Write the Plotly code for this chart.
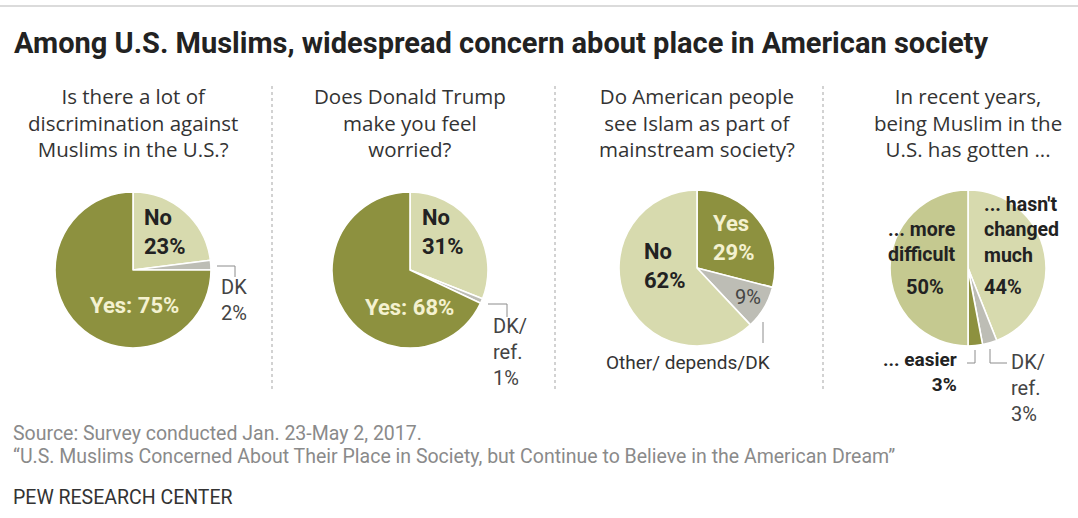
import plotly.graph_objects as go

W, H = 1078, 518

# ---------------- data ----------------
title = "Among U.S. Muslims, widespread concern about place in American society"
questions = [
    ["Is there a lot of", "discrimination against", "Muslims in the U.S.?"],
    ["Does Donald Trump", "make you feel", "worried?"],
    ["Do American people", "see Islam as part of", "mainstream society?"],
    ["In recent years,", "being Muslim in the", "U.S. has gotten ..."],
]
q1_labels = ["No", "DK", "Yes"]
q1_values = [23, 2, 75]
q2_labels = ["No", "DK/ref.", "Yes"]
q2_values = [31, 1, 68]
q3_labels = ["Yes", "Other/ depends/DK", "No"]
q3_values = [29, 9, 62]
q4_labels = ["... hasn't changed much", "DK/ref.", "... easier", "... more difficult"]
q4_values = [44, 3, 3, 50]
source_note = "Source: Survey conducted Jan. 23-May 2, 2017."
report_title = "\u201cU.S. Muslims Concerned About Their Place in Society, but Continue to Believe in the American Dream\u201d"
credit = "PEW RESEARCH CENTER"

# ---------------- style ----------------
DARK = "#8d913f"
LIGHT = "#d7daae"
MID = "#c5c990"
GRAY = "#bdbdb5"
CREAM = "#f4f1d0"
INK = "#222222"
SUB = "#333333"
BOLD_FONT = "Roboto"
REG_FONT = "Open Sans"

pies = [
    (q1_labels, q1_values, [LIGHT, GRAY, DARK], 133, 270),
    (q2_labels, q2_values, [LIGHT, GRAY, DARK], 410, 270),
    (q3_labels, q3_values, [DARK, GRAY, LIGHT], 697, 268),
    (q4_labels, q4_values, [LIGHT, GRAY, DARK, MID], 968, 268),
]
R = 78


def px(x):
    return x / W


def py(y):
    return 1 - y / H


fig = go.Figure()
for labels, values, colors, cx, cy in pies:
    fig.add_trace(go.Pie(
        labels=labels, values=values, sort=False, direction="clockwise",
        rotation=0, textinfo="none", hoverinfo="label+percent",
        marker=dict(colors=colors, line=dict(color="white", width=1.6)),
        domain=dict(x=[px(cx - R), px(cx + R)], y=[py(cy + R), py(cy - R)]),
        showlegend=False,
    ))

annotations = []


def txt(x, y, lines, size=20, color=INK, bold=False, anchor="left", font=None):
    if isinstance(lines, str):
        lines = [lines]
    body = "<br>".join(f"<b>{l}</b>" if bold else l for l in lines)
    annotations.append(dict(
        x=px(x), y=py(y), xref="paper", yref="paper", showarrow=False,
        text=body, xanchor=anchor, yanchor="middle", align=anchor,
        font=dict(family=font or (BOLD_FONT if bold else REG_FONT), size=size, color=color),
    ))


# title
txt(12, 43, title, size=29, color=INK, bold=True)

# questions
for (_, _, _, cx, _), lines in zip(pies, questions):
    txt(cx, 123, lines, size=20.5, color=SUB, anchor="center")

LBL = "#444444"
# pie 1 labels
txt(142, 232, [q1_labels[0], f"{q1_values[0]}%"], size=22, bold=True)
txt(134, 305, f"{q1_labels[2]}: {q1_values[2]}%", size=22, bold=True, color=CREAM, anchor="center")
txt(219, 300, [q1_labels[1], f"{q1_values[1]}%"], size=20, color=LBL, font=BOLD_FONT)

# pie 2 labels
txt(420, 232, [q2_labels[0], f"{q2_values[0]}%"], size=22, bold=True)
txt(409, 307, f"{q2_labels[2]}: {q2_values[2]}%", size=22, bold=True, color=CREAM, anchor="center")
dk2 = q2_labels[1].split("/")
txt(491, 352, [dk2[0] + "/", dk2[1], f"{q2_values[1]}%"], size=20, color=LBL, font=BOLD_FONT)

# pie 3 labels
txt(711, 238, [q3_labels[0], f"{q3_values[0]}%"], size=22, bold=True, color=CREAM)
txt(642, 266, [q3_labels[2], f"{q3_values[2]}%"], size=22, bold=True)
txt(748, 297, f"{q3_values[1]}%", size=20, color=LBL, anchor="center", font=BOLD_FONT)
txt(688, 362, q3_labels[1], size=19, color=SUB, anchor="center", font=BOLD_FONT)

# pie 4 labels
w0 = q4_labels[0].split(" ")
txt(982, 230, [" ".join(w0[:2]), w0[2], w0[3]], size=19.5, bold=True)
txt(982, 287, f"{q4_values[0]}%", size=20, bold=True)
w3 = q4_labels[3].split(" ")
txt(958, 242, [" ".join(w3[:2]), w3[2]], size=19.5, bold=True, anchor="right")
txt(925, 287, f"{q4_values[3]}%", size=20, bold=True, anchor="center")
txt(959, 372, [q4_labels[2], f"{q4_values[2]}%"], size=19, bold=True, anchor="right")
dk4 = q4_labels[1].split("/")
txt(1009, 388, [dk4[0] + "/", dk4[1], f"{q4_values[1]}%"], size=20, color=LBL, font=BOLD_FONT)

# footer
txt(11, 433.5, source_note, size=19.5, color="#8a8a8a", font=BOLD_FONT)
txt(11, 456.5, report_title, size=19.5, color="#8a8a8a", font=BOLD_FONT)
txt(11, 497, credit, size=19.5, color=SUB, font=BOLD_FONT)

shapes = []


def seg(x0, y0, x1, y1, color="#8c8c8c", width=1, dash="solid"):
    shapes.append(dict(type="line", xref="paper", yref="paper",
                       x0=px(x0), y0=py(y0), x1=px(x1), y1=py(y1),
                       line=dict(color=color, width=width, dash=dash)))


# top rule
seg(0, 6, W, 6, color="#cfcfcf", width=1.5)
# separators
for sx in (272, 555, 823):
    seg(sx, 86, sx, 390, color="#b5b5b5", width=1.2, dash="dot")
# leader lines
seg(217, 266, 235, 266)
seg(235, 266, 235, 277)
seg(488, 304, 507, 304)
seg(507, 304, 507, 317)
seg(763, 322, 763, 343)
seg(967, 363, 975, 363)
seg(975, 350, 975, 363)
seg(990, 349, 990, 363)
seg(990, 363, 1007, 363)

fig.update_layout(
    width=W, height=H, margin=dict(l=0, r=0, t=0, b=0),
    paper_bgcolor="white", plot_bgcolor="white",
    annotations=annotations, shapes=shapes,
)

fig.write_html(
    "out.html",
    config={"displayModeBar": False},
    post_script="document.body.style.margin='0';document.body.style.overflow='hidden';",
)
